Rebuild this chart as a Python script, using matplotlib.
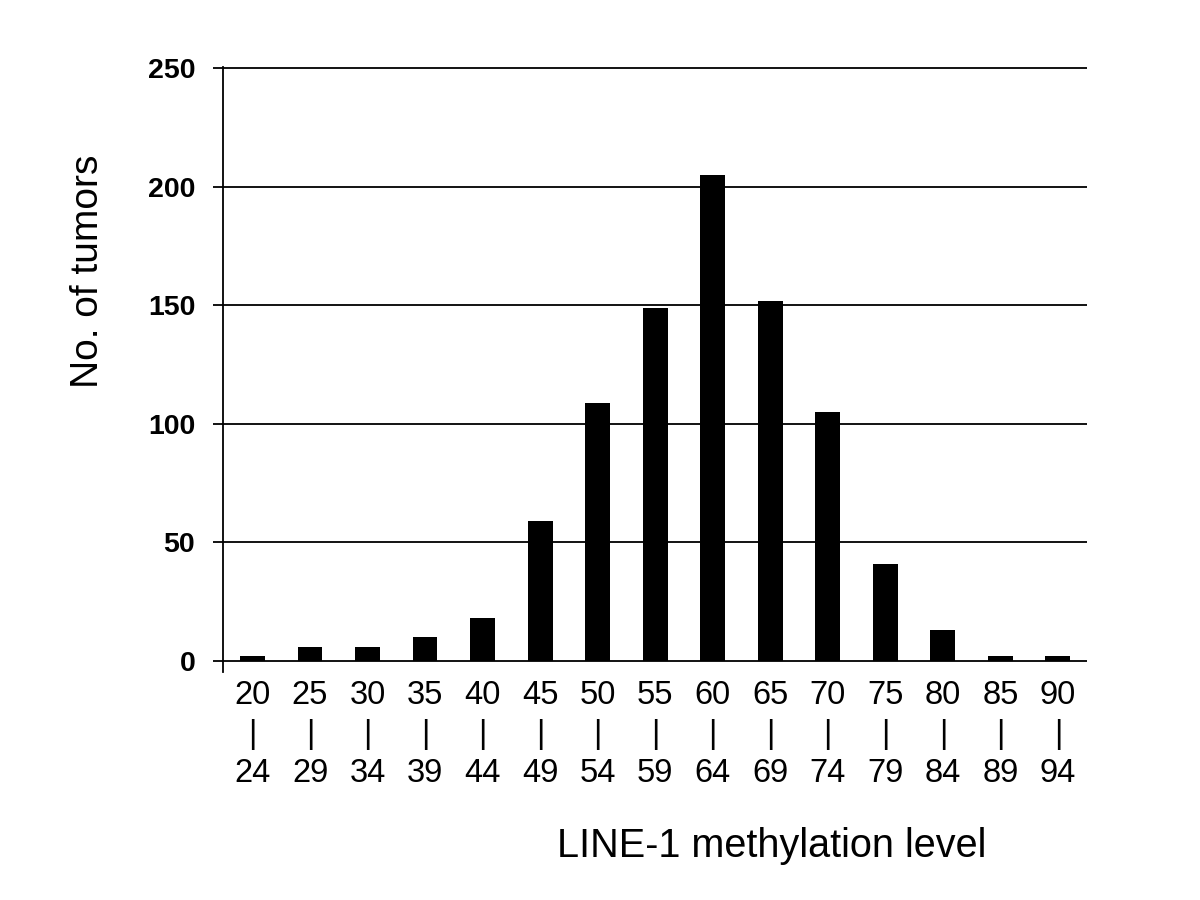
import numpy as np
import matplotlib

matplotlib.use("Agg")
import matplotlib.pyplot as plt

plt.rcParams["font.family"] = ["Liberation Sans", "DejaVu Sans"]

# methylation bins (lower / upper bound) and tumour counts
bin_lo = [20, 25, 30, 35, 40, 45, 50, 55, 60, 65, 70, 75, 80, 85, 90]
bin_hi = [24, 29, 34, 39, 44, 49, 54, 59, 64, 69, 74, 79, 84, 89, 94]
counts = [2, 6, 6, 10, 18, 59, 109, 149, 205, 152, 105, 41, 13, 2, 2]
yticks = [0, 50, 100, 150, 200, 250]

labels = [f"{lo}\n|\n{hi}" for lo, hi in zip(bin_lo, bin_hi)]
x = np.arange(len(counts))

fig = plt.figure(figsize=(12, 9), dpi=100)
ax = fig.add_axes([0.186, 0.2533, 0.72, 0.6727])

ax.bar(x, counts, width=0.43, color="black", zorder=3)

ax.set_xlim(-0.51, 14.51)
ax.set_ylim(-4.6, 250.6)
ax.set_yticks(yticks)
ax.set_yticklabels([str(t) for t in yticks], fontsize=20.5, fontweight="bold")
ax.set_xticks(x)
ax.set_xticklabels(labels, fontsize=23.5, linespacing=1.35)

ax.tick_params(axis="x", length=0, pad=5.5)
ax.tick_params(axis="y", length=7.2, width=1.3, pad=13, direction="out")

ax.grid(axis="y", color="black", linewidth=1.3)
ax.set_axisbelow(True)

for side in ["top", "right", "bottom"]:
    ax.spines[side].set_visible(False)
ax.spines["left"].set_linewidth(1.3)

ax.set_xlabel("LINE-1 methylation level", fontsize=28.5, va="baseline")
ax.xaxis.set_label_coords(0.635, -0.306)
ax.set_ylabel("No. of tumors", fontsize=28, va="center")
ax.yaxis.set_label_coords(-0.157, 0.662)

fig.savefig("out.png", dpi=100)
plt.close(fig)
